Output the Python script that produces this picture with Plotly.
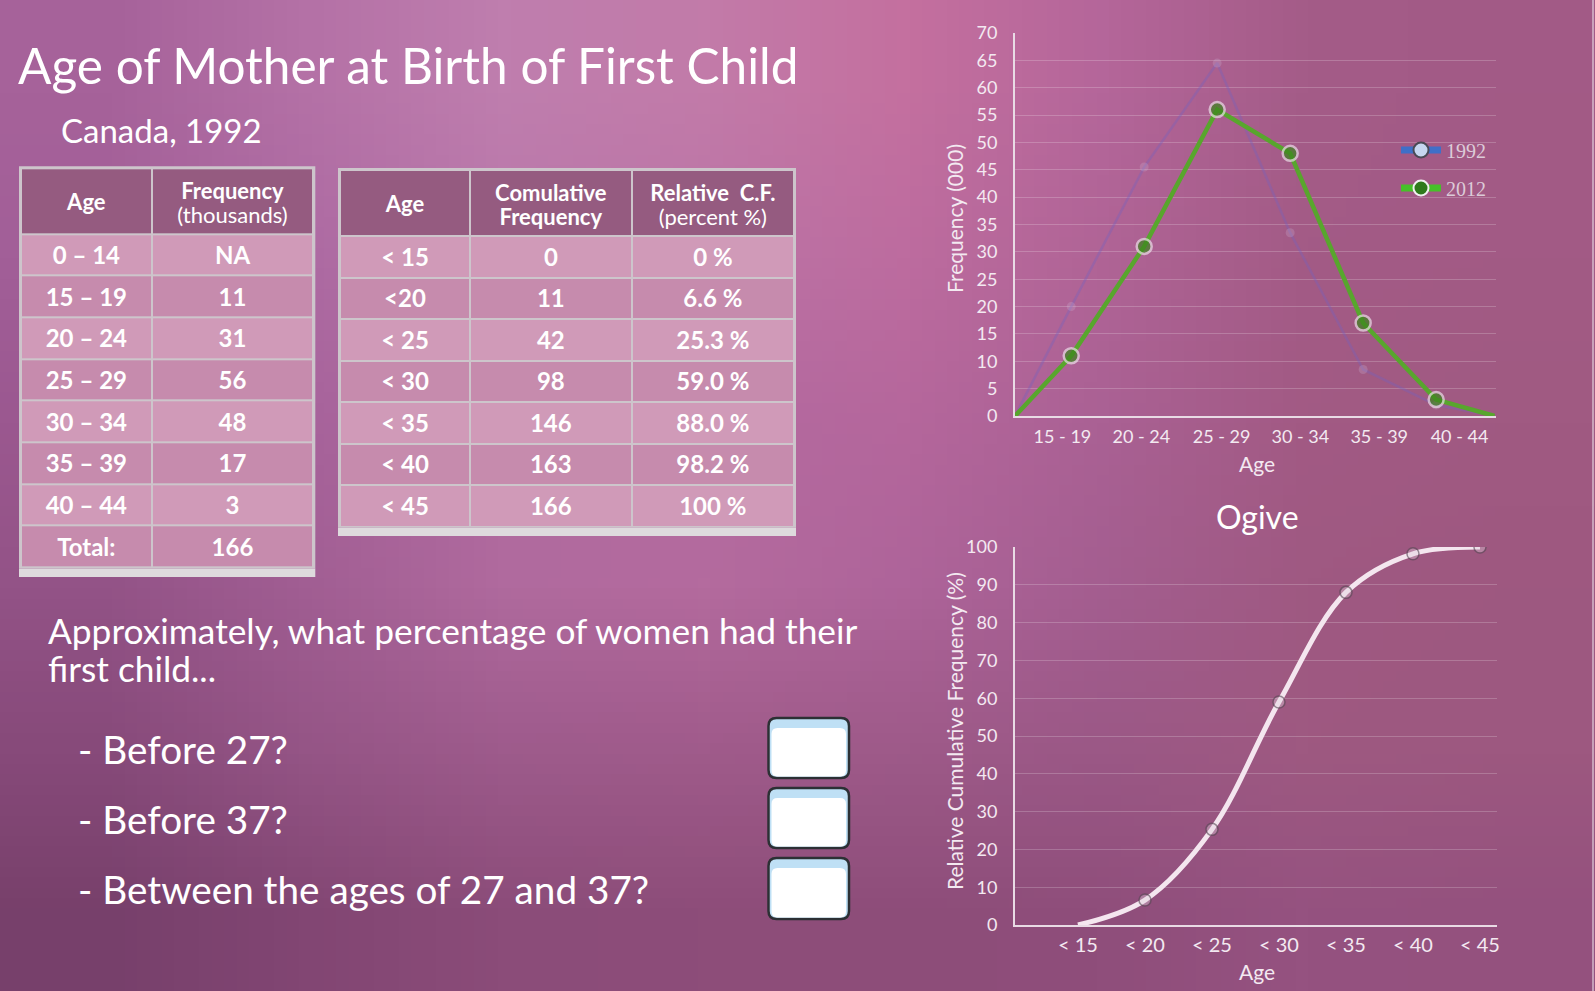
import base64, struct, zlib
import plotly.graph_objects as go

W, H = 1595, 991

# ---------------- data ----------------
age_classes = ["0 – 14", "15 – 19", "20 – 24", "25 – 29", "30 – 34", "35 – 39", "40 – 44"]
frequency = [None, 11, 31, 56, 48, 17, 3]          # thousands (0-14 not available)
total_label = "Total:"
total_freq = 166

cum_labels = ["< 15", "<20", "< 25", "< 30", "< 35", "< 40", "< 45"]
cum_freq = [0, 11, 42, 98, 146, 163, 166]
rel_cf = [0.0, 6.6, 25.3, 59.0, 88.0, 98.2, 100.0]

poly_labels = ["15 - 19", "20 - 24", "25 - 29", "30 - 34", "35 - 39", "40 - 44"]
poly_mid_age = [17, 22, 27, 32, 37, 42]
freq_2012 = frequency[1:]
freq_1992 = [20, 45.5, 64.5, 33.5, 8.5, 2]
poly_end_ages = [13.15, 46.0]
poly_label_pos = [16.4, 21.8, 27.3, 32.7, 38.1, 43.6]

ogive_labels = ["< 15", "< 20", "< 25", "< 30", "< 35", "< 40", "< 45"]
ogive_ages = [15, 20, 25, 30, 35, 40, 45]

title_text = "Age of Mother at Birth of First Child"
subtitle_text = "Canada, 1992"
question_lines = ["Approximately, what percentage of women had their", "first child..."]
questions = ["- Before 27?", "- Before 37?", "- Between the ages of 27 and 37?"]

# ---------------- helpers ----------------
def px(x):
    return x / W

def py(y):
    return 1 - y / H

def png_uri(rows):
    h = len(rows); w = len(rows[0])
    raw = b""
    for r in rows:
        raw += b"\x00" + bytes(c for hx in r for c in bytes.fromhex(hx[1:]))
    def chunk(t, d):
        return struct.pack(">I", len(d)) + t + d + struct.pack(">I", zlib.crc32(t + d) & 0xffffffff)
    png = (b"\x89PNG\r\n\x1a\n" + chunk(b"IHDR", struct.pack(">IIBBBBB", w, h, 8, 2, 0, 0, 0))
           + chunk(b"IDAT", zlib.compress(raw)) + chunk(b"IEND", b""))
    return "data:image/png;base64," + base64.b64encode(png).decode()

def rrect_path(x0, y0, x1, y1, r):
    X = lambda v: f"{px(v):.5f}"
    Y = lambda v: f"{py(v):.5f}"
    return (f"M{X(x0+r)},{Y(y0)} L{X(x1-r)},{Y(y0)} Q{X(x1)},{Y(y0)} {X(x1)},{Y(y0+r)} "
            f"L{X(x1)},{Y(y1-r)} Q{X(x1)},{Y(y1)} {X(x1-r)},{Y(y1)} L{X(x0+r)},{Y(y1)} "
            f"Q{X(x0)},{Y(y1)} {X(x0)},{Y(y1-r)} L{X(x0)},{Y(y0+r)} Q{X(x0)},{Y(y0)} {X(x0+r)},{Y(y0)} Z")

bg_rows = [
    ["#a6629a", "#b471a6", "#bf7eae", "#c27ba9", "#c4709f", "#b4669a", "#a45c88", "#a25a86"],
    ["#a25f98", "#ad6aa2", "#b977aa", "#bb74a6", "#bd6c9f", "#b06496", "#a35b86", "#a25a85"],
    ["#9b5890", "#a7639b", "#b06aa0", "#b36aa0", "#b5679c", "#aa6194", "#a25a84", "#a05a82"],
    ["#935387", "#a15e93", "#b06a9e", "#b46b9e", "#ae649a", "#a45e90", "#9f5982", "#9e5880"],
    ["#874a7a", "#955586", "#9e5b8c", "#a05b8b", "#9e5a89", "#9b5886", "#9e5981", "#9d5880"],
    ["#77406b", "#824673", "#8b4c79", "#8d4d79", "#8d4d79", "#8f4e7b", "#955280", "#94517e"],
]

FONT = "Lato"
AX = "#e9dbe5"
TICK = "#f3e9f1"
GRID = "rgba(255,255,255,0.20)"
HDR = "#955b80"
LIGHT = "#d09ab8"
DARK = "#c68bad"
BORDER = "#cdc5cb"

fig = go.Figure()

# ---------------- frequency polygon ----------------
xs = [poly_end_ages[0]] + poly_mid_age + [poly_end_ages[1]]
msize = lambda s: [0] + [s] * len(poly_mid_age) + [0]
fig.add_trace(go.Scatter(
    x=xs, y=[0] + freq_1992 + [0], mode="lines+markers", xaxis="x", yaxis="y",
    line=dict(color="rgba(118,96,190,0.38)", width=2.5),
    marker=dict(size=msize(9), color="rgba(205,185,220,0.35)", line=dict(width=0)),
    showlegend=False, hoverinfo="skip"))
fig.add_trace(go.Scatter(
    x=xs, y=[0] + freq_2012 + [0], mode="lines+markers", xaxis="x", yaxis="y",
    line=dict(color="#58a62d", width=4.5),
    marker=dict(size=msize(15), color="#3c841e", line=dict(color="rgba(238,228,236,0.95)", width=2.5)),
    showlegend=False, hoverinfo="skip"))
# legend entries
fig.add_trace(go.Scatter(
    x=[None], y=[None], mode="lines+markers", name="1992", legend="legend", xaxis="x", yaxis="y",
    line=dict(color="#3f6fc8", width=7),
    marker=dict(size=15, color="#c6d6ef", line=dict(color="#4a4a55", width=2))))
fig.add_trace(go.Scatter(
    x=[None], y=[None], mode="lines+markers", name="2012", legend="legend2", xaxis="x", yaxis="y",
    line=dict(color="#46c029", width=7),
    marker=dict(size=15, color="#2f7a1c", line=dict(color="#f0f0f0", width=2))))

# ---------------- ogive ----------------
fig.add_trace(go.Scatter(
    x=ogive_ages, y=rel_cf, mode="lines+markers", xaxis="x2", yaxis="y2",
    line=dict(color="#f4e6ef", width=5, shape="spline", smoothing=1.0),
    marker=dict(size=[0] + [12] * (len(rel_cf) - 1), color="rgba(225,210,222,0.55)",
                line=dict(color="rgba(85,70,82,0.85)", width=1.5)),
    showlegend=False, hoverinfo="skip"))

# ---------------- tables (heatmap cells + text) ----------------
def add_table(xa, ya, col_edges, hdr_h, row_h, n_rows, header_lines, columns, box):
    y_edges = [0, hdr_h] + [hdr_h + row_h * (i + 1) for i in range(n_rows)]
    ncol = len(col_edges) - 1
    z = [[0] * ncol] + [[1 if i % 2 == 0 else 2] * ncol for i in range(n_rows)]
    fig.add_trace(go.Heatmap(
        x=col_edges, y=y_edges, z=z, xaxis=xa, yaxis=ya, zmin=0, zmax=2, showscale=False,
        colorscale=[[0, HDR], [0.33, HDR], [0.33, LIGHT], [0.67, LIGHT], [0.67, DARK], [1, DARK]],
        xgap=2, ygap=2, hoverinfo="skip"))
    cx = [(col_edges[i] + col_edges[i + 1]) / 2 for i in range(ncol)]
    # header text
    hx, hy, ht = [], [], []
    for c, lines in enumerate(header_lines):
        if len(lines) == 1:
            hx.append(cx[c]); hy.append(hdr_h / 2 + 3); ht.append(lines[0])
        else:
            hx += [cx[c], cx[c]]; hy += [hdr_h / 2 - 8, hdr_h / 2 + 16]; ht += lines
    fig.add_trace(go.Scatter(x=hx, y=hy, text=ht, mode="text", xaxis=xa, yaxis=ya,
                             textfont=dict(family=FONT, size=22, color="white"),
                             showlegend=False, hoverinfo="skip", cliponaxis=False))
    tx, tyy, tt = [], [], []
    for c, col in enumerate(columns):
        for r, v in enumerate(col):
            tx.append(cx[c]); tyy.append(hdr_h + row_h * (r + 0.5) + 3); tt.append(f"<b>{v}</b>")
    fig.add_trace(go.Scatter(x=tx, y=tyy, text=tt, mode="text", xaxis=xa, yaxis=ya,
                             textfont=dict(family=FONT, size=24, color="white"),
                             showlegend=False, hoverinfo="skip", cliponaxis=False))
    x0, y0, x1, y1 = box
    return dict(x=[px(x0), px(x1)], y=[py(y1), py(y0)]), y_edges[-1], col_edges[-1]

t1_cols = [age_classes + [total_label],
           ["NA" if f is None else f for f in frequency] + [total_freq]]
t1_dom, t1_h, t1_w = add_table("x3", "y3", [0, 130.7, 292.3], 65.7, 41.67, 8,
                               [["<b>Age</b>"], ["<b>Frequency</b>", "(thousands)"]], t1_cols,
                               (21, 168.3, 313.3, 567.4))

rel_txt = [f"{v:g} %" if v in (0, 100) else f"{v:.1f} %" for v in rel_cf]
t2_cols = [cum_labels, cum_freq, rel_txt]
t2_dom, t2_h, t2_w = add_table("x4", "y4", [0, 130, 291.7, 454], 66, 41.53, 7,
                               [["<b>Age</b>"], ["<b>Comulative</b>", "<b>Frequency</b>"],
                                ["<b>Relative\u00a0 C.F.</b>", "(percent %)"]], t2_cols,
                               (340, 170, 794, 526.7))

hidden = dict(visible=False, fixedrange=True, automargin=False)

shapes = []
# table outer borders and bottom bands
for (x0, y0, x1, y1, band) in [(21, 168.3, 313.3, 567.4, 577), (340, 170, 794, 526.7, 536)]:
    shapes.append(dict(type="rect", xref="paper", yref="paper", layer="below",
                       x0=px(x0 - 2), x1=px(x1 + 2), y0=py(y1 + 1), y1=py(y0 - 2),
                       fillcolor=BORDER, line=dict(width=0)))
    shapes.append(dict(type="rect", xref="paper", yref="paper", layer="below",
                       x0=px(x0 - 2), x1=px(x1 + 2), y0=py(band), y1=py(y1 + 1),
                       fillcolor="#dedadd", line=dict(width=0)))
# answer boxes
for (y0, y1) in [(718, 778), (788, 848), (858, 919)]:
    shapes.append(dict(type="path", xref="paper", yref="paper", path=rrect_path(768.5, y0, 849, y1, 8),
                       fillcolor="#bfe0f5", line=dict(color="#2c3034", width=2.5)))
    shapes.append(dict(type="path", xref="paper", yref="paper", path=rrect_path(771.5, y0 + 10, 846, y1 - 1.5, 6),
                       fillcolor="#ffffff", line=dict(width=0)))
# right edge line of the slide image
shapes.append(dict(type="line", xref="paper", yref="paper", x0=px(1593), x1=px(1593), y0=0, y1=1,
                   line=dict(color="rgba(235,222,232,0.55)", width=2)))

annotations = []
def ann(text, x, y, size, xanchor="left", angle=0, color="white"):
    annotations.append(dict(text=text, x=px(x), y=py(y), xref="paper", yref="paper",
                            xanchor=xanchor, yanchor="middle", showarrow=False, textangle=angle,
                            font=dict(family=FONT, size=size, color=color)))

ann(title_text, 16, 65, 49.5)
ann(subtitle_text, 59, 130, 33)
ann(question_lines[0], 46, 630, 35.3)
ann(question_lines[1], 46, 668, 35.3)
for q, y in zip(questions, [749, 819, 889]):
    ann(q, 76, y, 38.7)
ann("Frequency (000)", 954, 219, 21, "center", -90, TICK)
ann("Age", 1257, 463, 21, "center", 0, TICK)
ann("Ogive", 1257, 516, 32, "center", 0, "white")
ann("Relative Cumulative Frequency (%)", 954, 731, 21, "center", -90, TICK)
ann("Age", 1257, 971, 21, "center", 0, TICK)

fig.update_layout(
    width=W, height=H, autosize=False,
    margin=dict(l=0, r=0, t=0, b=0, pad=0, autoexpand=False),
    paper_bgcolor="#a45c8c", plot_bgcolor="rgba(0,0,0,0)",
    images=[dict(source=png_uri(bg_rows), xref="paper", yref="paper", x=0, y=1, sizex=1, sizey=1,
                 xanchor="left", yanchor="top", sizing="stretch", layer="below")],
    xaxis=dict(domain=[px(1015), px(1496)], anchor="y", range=[poly_end_ages[0], 46.1],
               tickvals=poly_label_pos, ticktext=poly_labels, showgrid=False, zeroline=False,
               showline=True, linecolor=AX, linewidth=2, ticks="", ticklabelstandoff=3,
               tickfont=dict(family=FONT, size=18, color=TICK), fixedrange=True, automargin=False),
    yaxis=dict(domain=[py(416), py(33)], anchor="x", range=[0, 70], dtick=5, tick0=0,
               showgrid=True, gridcolor=GRID, gridwidth=1, zeroline=False, showline=True,
               linecolor=AX, linewidth=2, ticks="", ticklabelstandoff=12,
               tickfont=dict(family=FONT, size=18, color=TICK), fixedrange=True, automargin=False),
    xaxis2=dict(domain=[px(1015), px(1497)], anchor="y2", range=[10.3, 46.27],
                tickvals=ogive_ages, ticktext=ogive_labels, showgrid=False, zeroline=False,
                showline=True, linecolor=AX, linewidth=2, ticks="", ticklabelstandoff=1,
                tickfont=dict(family=FONT, size=20, color=TICK), fixedrange=True, automargin=False),
    yaxis2=dict(domain=[py(925), py(547)], anchor="x2", range=[0, 100], dtick=10, tick0=0,
                showgrid=True, gridcolor=GRID, gridwidth=1, zeroline=False, showline=True,
                linecolor=AX, linewidth=2, ticks="", ticklabelstandoff=12,
                tickfont=dict(family=FONT, size=18, color=TICK), fixedrange=True, automargin=False),
    xaxis3=dict(domain=t1_dom["x"], anchor="y3", range=[0, t1_w], **hidden),
    yaxis3=dict(domain=t1_dom["y"], anchor="x3", range=[t1_h, 0], **hidden),
    xaxis4=dict(domain=t2_dom["x"], anchor="y4", range=[0, t2_w], **hidden),
    yaxis4=dict(domain=t2_dom["y"], anchor="x4", range=[t2_h, 0], **hidden),
    legend=dict(x=px(1396), y=py(150), xanchor="left", yanchor="middle", bgcolor="rgba(0,0,0,0)",
                itemwidth=40, font=dict(family="Liberation Serif", size=20, color="#dccbd8")),
    legend2=dict(x=px(1396), y=py(188), xanchor="left", yanchor="middle", bgcolor="rgba(0,0,0,0)",
                 itemwidth=40, font=dict(family="Liberation Serif", size=20, color="#dccbd8")),
    shapes=shapes, annotations=annotations,
)

fig.write_html("out.html", config={"displayModeBar": False},
               post_script="document.body.style.margin='0';document.body.style.overflow='hidden';")
